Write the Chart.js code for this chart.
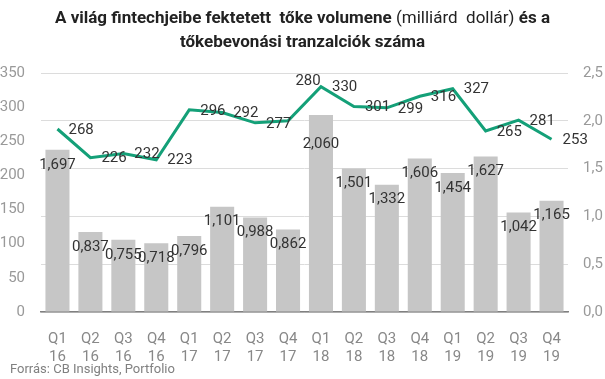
<!DOCTYPE html>
<html>
<head>
<meta charset="utf-8">
<script src="https://cdn.jsdelivr.net/npm/chart.js@4"></script>
<style>
html,body{margin:0;padding:0;background:#fff;}
#wrap{position:relative;width:605px;height:379px;}
#title{position:absolute;left:0;top:5px;width:605px;text-align:center;font-family:Roboto,sans-serif;font-size:17px;line-height:24px;color:#222;font-weight:700;letter-spacing:0px;}
#title .n{font-weight:400;}
#src{position:absolute;left:10px;top:361px;font-family:Roboto,sans-serif;font-size:13px;color:#808080;}
canvas{position:absolute;left:0;top:0;}
</style>
</head>
<body>
<div id="wrap">
<canvas id="c" width="605" height="379"></canvas>
<div id="title">A világ fintechjeibe fektetett&nbsp; tőke volumene <span class="n">(milliárd&nbsp; dollár)</span> és a<br>tőkebevonási tranzalciók száma</div>
<div id="src">Forrás: CB Insights, Portfolio</div>
</div>
<script>
const categories = [["Q1","16"],["Q2","16"],["Q3","16"],["Q4","16"],["Q1","17"],["Q2","17"],["Q3","17"],["Q4","17"],["Q1","18"],["Q2","18"],["Q3","18"],["Q4","18"],["Q1","19"],["Q2","19"],["Q3","19"],["Q4","19"]];
const volumeValues = [1.697,0.837,0.755,0.718,0.796,1.101,0.988,0.862,2.060,1.501,1.332,1.606,1.454,1.627,1.042,1.165];
const dealCounts = [268,226,232,223,296,292,277,280,330,301,299,316,327,265,281,253];
const leftTicks = [0,50,100,150,200,250,300,350];
const rightTicks = [0,0.5,1.0,1.5,2.0,2.5];

const fmt = v => v.toFixed(3).replace('.', ',');

const labelPlugin = {
  id: 'valueLabels',
  afterDatasetsDraw(chart) {
    const ctx = chart.ctx;
    ctx.save();
    ctx.font = '15px Roboto';
    ctx.fillStyle = '#333';
    ctx.textBaseline = 'middle';
    const barMeta = chart.getDatasetMeta(0);
    ctx.textAlign = 'center';
    barMeta.data.forEach((el, i) => {
      const extra = (i === 8) ? 14 : 0;
      ctx.fillText(fmt(volumeValues[i]), el.x, el.y + 15 + extra);
    });
    const lineMeta = chart.getDatasetMeta(1);
    lineMeta.data.forEach((el, i) => {
      if (i === 7) {
        const nx = lineMeta.data[8];
        ctx.textAlign = 'center';
        ctx.fillText(String(dealCounts[i]), el.x + 20, nx.y - 5);
      } else {
        ctx.textAlign = 'left';
        ctx.fillText(String(dealCounts[i]), el.x + 11, el.y + 1);
      }
    });
    ctx.restore();
  }
};

new Chart(document.getElementById('c'), {
  data: {
    labels: categories,
    datasets: [
      {
        type: 'bar',
        data: volumeValues,
        yAxisID: 'y1',
        backgroundColor: '#c6c6c6',
        categoryPercentage: 0.73,
        barPercentage: 1.0,
        order: 2
      },
      {
        type: 'line',
        data: dealCounts,
        yAxisID: 'y',
        borderColor: '#14a078',
        borderWidth: 3,
        pointRadius: 0,
        tension: 0,
        order: 1
      }
    ]
  },
  options: {
    responsive: false,
    animation: false,
    layout: { padding: { top: 73, left: 0, right: 0, bottom: 0 } },
    plugins: { legend: { display: false }, tooltip: { enabled: false }, title: { display: false } },
    scales: {
      x: {
        grid: { display: false, drawTicks: false },
        border: { display: true, color: '#808080', width: 1.5 },
        afterFit(axis) { axis.height = 67; },
        ticks: { color: '#888', font: { family: 'Roboto', size: 15, lineHeight: 1.15 }, padding: 19, maxRotation: 0, autoSkip: false }
      },
      y: {
        position: 'left',
        min: 0, max: 350,
        afterBuildTicks(axis) { axis.ticks = leftTicks.map(v => ({ value: v })); },
        afterFit(axis) { axis.width = 41; },
        grid: { display: false, drawTicks: false },
        border: { display: false },
        ticks: { color: '#999', font: { family: 'Roboto', size: 15 }, padding: 16 }
      },
      y1: {
        position: 'right',
        min: 0, max: 2.5,
        afterBuildTicks(axis) { axis.ticks = rightTicks.map(v => ({ value: v })); },
        afterFit(axis) { axis.width = 37; },
        grid: { color: '#dcdcdc', drawTicks: false },
        border: { display: false },
        ticks: { color: '#999', font: { family: 'Roboto', size: 15 }, padding: 15, callback: v => v.toFixed(1).replace('.', ',') }
      }
    }
  },
  plugins: [labelPlugin]
});
</script>
</body>
</html>
